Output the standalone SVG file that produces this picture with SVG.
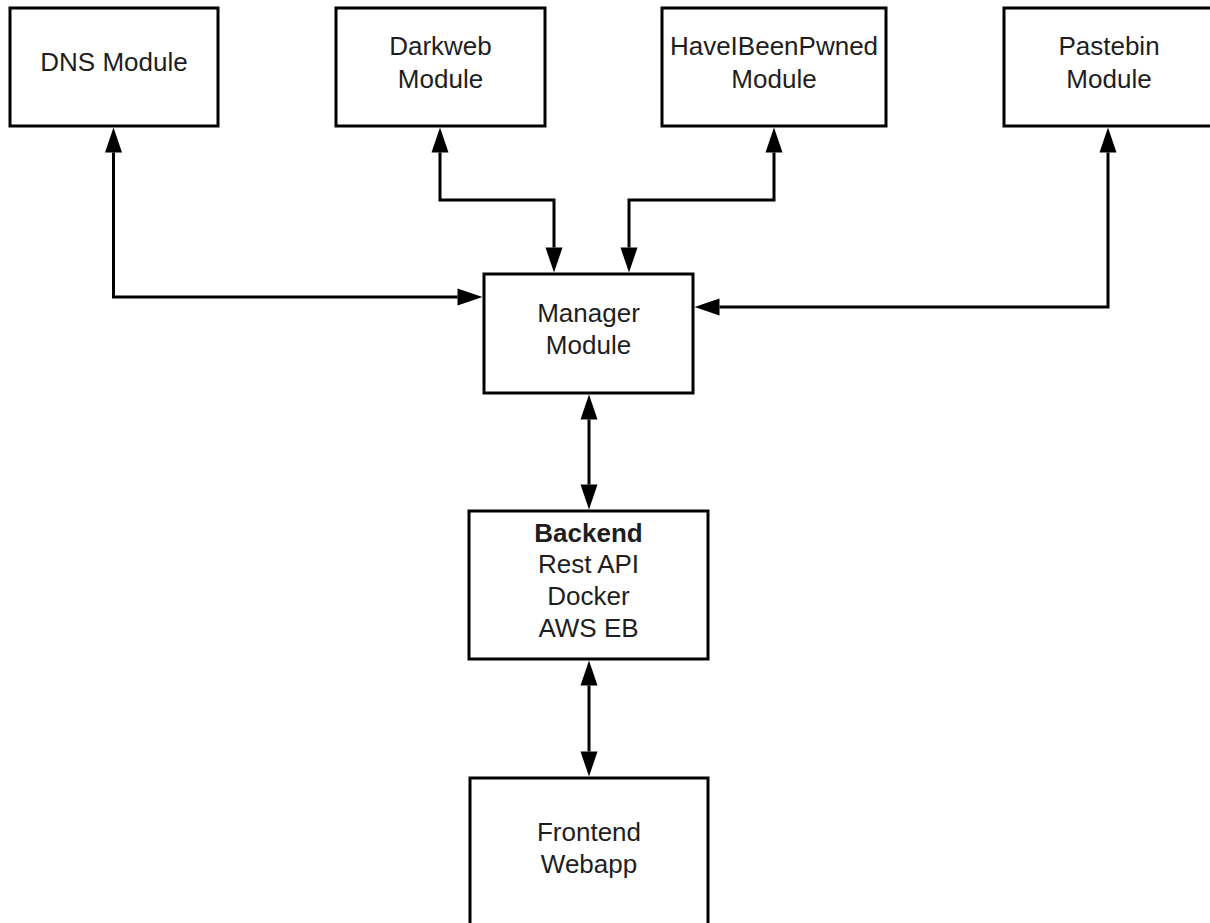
<svg xmlns="http://www.w3.org/2000/svg" width="1210" height="923" viewBox="0 0 1210 923">
<defs>
<marker id="ah" markerUnits="userSpaceOnUse" markerWidth="26" markerHeight="18" refX="0" refY="8.5" orient="auto-start-reverse" viewBox="0 0 26 17" overflow="visible">
<path d="M0,0 L25,8.5 L0,17 Z" fill="#000"/>
</marker>
<style>
.box{fill:#fff;stroke:#000;stroke-width:3}
.t{font-family:"Liberation Sans",Arial,sans-serif;font-size:26px;fill:#1e1e1e;text-anchor:middle}
.b{font-weight:bold}
.c{fill:none;stroke:#000;stroke-width:3}
</style>
</defs>
<rect width="1210" height="923" fill="#fff"/>
<g id="dns"><rect class="box" x="10" y="8" width="208" height="118"/><text class="t" x="114" y="71">DNS Module</text></g>
<g id="darkweb"><rect class="box" x="336" y="8" width="209" height="118"/><text class="t" x="440.5" y="55">Darkweb</text><text class="t" x="440.5" y="88">Module</text></g>
<g id="hibp"><rect class="box" x="662" y="8" width="224" height="118"/><text class="t" x="774" y="55">HaveIBeenPwned</text><text class="t" x="774" y="88">Module</text></g>
<g id="pastebin"><rect class="box" x="1004" y="8" width="210" height="118"/><text class="t" x="1109" y="55">Pastebin</text><text class="t" x="1109" y="88">Module</text></g>
<g id="manager"><rect class="box" x="484" y="274" width="209" height="119"/><text class="t" x="588.5" y="322">Manager</text><text class="t" x="588.5" y="354">Module</text></g>
<g id="backend"><rect class="box" x="469" y="511" width="239" height="148"/><text class="t b" x="588.5" y="542">Backend</text><text class="t" x="588.5" y="573">Rest API</text><text class="t" x="588.5" y="605">Docker</text><text class="t" x="588.5" y="637">AWS EB</text></g>
<g id="frontend"><rect class="box" x="470" y="778" width="238" height="160"/><text class="t" x="589" y="841">Frontend</text><text class="t" x="589" y="873">Webapp</text></g>
<g id="connectors">
<path class="c" d="M113.5,152.5 V297 H457.5" marker-start="url(#ah)" marker-end="url(#ah)"/>
<path class="c" d="M440,152.5 V200 H554 V247.5" marker-start="url(#ah)" marker-end="url(#ah)"/>
<path class="c" d="M774,152.5 V200 H629 V247.5" marker-start="url(#ah)" marker-end="url(#ah)"/>
<path class="c" d="M1108,152.5 V307 H719.5" marker-start="url(#ah)" marker-end="url(#ah)"/>
<path class="c" d="M589,419.5 V484.5" marker-start="url(#ah)" marker-end="url(#ah)"/>
<path class="c" d="M589,685.5 V751.5" marker-start="url(#ah)" marker-end="url(#ah)"/>
</g>
</svg>
